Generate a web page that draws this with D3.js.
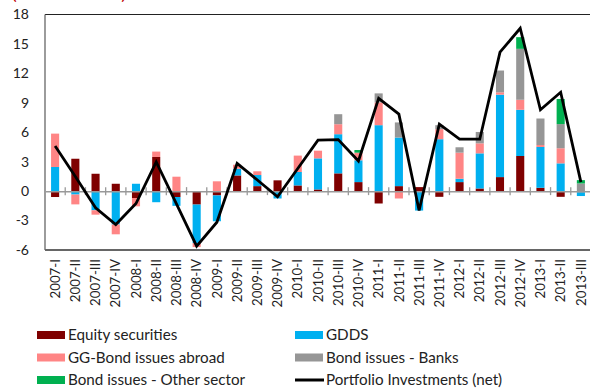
<!DOCTYPE html>
<html><head><meta charset="utf-8">
<script src="https://cdn.jsdelivr.net/npm/d3@7"></script>
<style>body{margin:0;background:#fff}svg{display:block}</style>
</head><body><svg id="c" width="590" height="389"></svg>
<script>
const categories = ["2007-I","2007-II","2007-III","2007-IV","2008-I","2008-II","2008-III","2008-IV","2009-I","2009-II","2009-III","2009-IV","2010-I","2010-II","2010-III","2010-IV","2011-I","2011-II","2011-III","2011-IV","2012-I","2012-II","2012-III","2012-IV","2013-I","2013-II","2013-III"];
const equity   = [-0.6,3.3,1.77,0.75,-0.7,3.48,-0.6,-1.37,-0.44,1.6,0.51,1.1,0.58,0.17,1.81,0.92,-1.26,0.51,0.41,-0.58,0.92,0.27,1.43,3.58,0.34,-0.58,-0.12];
const gdds     = [2.46,-0.35,-1.95,-3.4,0.75,-1.13,-0.9,-3.92,-2.63,0.68,1.13,-0.75,1.37,3.17,3.99,2.22,6.72,4.95,-1.98,5.29,0.34,3.58,8.4,4.71,4.16,2.83,-0.38];
const ggBond   = [3.4,-1.0,-0.45,-1.0,-0.85,0.55,1.47,-0.41,1.0,0.41,0.38,0,1.67,0.78,1.02,0.78,2.32,-0.75,0,1.02,2.66,1.02,0.24,1.02,0.2,1.54,0];
const banks    = [0,0,0,0,0,0,0,0,0,0,0,0,0,0,1.02,0,0.92,1.54,0,0.41,0.55,1.16,2.22,5.19,2.7,2.46,0.78];
const other    = [0,0,0,0,0,0,0,0,0,0,0,0,0,0,0,0.27,0,0,0,0,0,0,0,1.19,0,2.56,0.34];
const portfolio= [4.6,1.5,-1.7,-3.4,-1.26,2.97,-1.3,-5.6,-3.17,2.83,1.13,-0.58,2.3,5.19,5.25,3.07,9.45,7.85,-1.98,6.83,5.29,5.29,14.16,16.6,8.29,10.07,0.92];
const yTicks = [-6,-3,0,3,6,9,12,15,18];
const seriesNames = ["Equity securities","GDDS","GG-Bond issues abroad","Bond issues - Banks","Bond issues - Other sector"];
const seriesColors = ["#7f0000","#00b0f0","#ff8585","#969696","#00b050"];
const lineName = "Portfolio Investments (net)";

const keys = ["equity","gdds","gg","banks","other"];
const rows = categories.map((c,i)=>({cat:c,equity:equity[i],gdds:gdds[i],gg:ggBond[i],banks:banks[i],other:other[i]}));

const svg = d3.select("#c");
const font = "Lato, 'Open Sans', sans-serif";
const x = d3.scaleBand().domain(categories).range([45,591]).paddingInner(0.6).paddingOuter(0.3);
const y = d3.scaleLinear().domain([-6,18]).range([250,14.5]);

const stack = d3.stack().keys(keys).offset(d3.stackOffsetDiverging)(rows);

// title fragment (clipped at top, as in the reference)
svg.append("text").attr("x",12).attr("y",-0.5).attr("fill","#c00000")
  .attr("font-family",font).attr("font-size",14).attr("textLength",114).attr("lengthAdjust","spacingAndGlyphs")
  .text("(in EUR billion)");

// frame
svg.append("line").attr("x1",45).attr("x2",590).attr("y1",y(18)).attr("y2",y(18)).attr("stroke","#222").attr("stroke-width",1.2);
svg.append("line").attr("x1",45).attr("x2",45).attr("y1",y(18)).attr("y2",y(-6)).attr("stroke","#666").attr("stroke-width",1.3);
svg.append("line").attr("x1",45).attr("x2",590).attr("y1",y(-6)).attr("y2",y(-6)).attr("stroke","#666").attr("stroke-width",2);

// y labels
svg.append("g").selectAll("text").data(yTicks).join("text")
  .attr("x",29).attr("y",d=>y(d)).attr("dy","0.35em").attr("text-anchor","end")
  .attr("font-family",font).attr("font-size",14).attr("fill","#222").text(d=>d);

// bars
svg.append("g").selectAll("g").data(stack).join("g")
  .attr("fill",(d,i)=>seriesColors[i])
  .selectAll("rect").data(d=>d).join("rect")
  .attr("x",d=>x(d.data.cat)).attr("width",x.bandwidth())
  .attr("y",d=>y(Math.max(d[0],d[1]))).attr("height",d=>Math.abs(y(d[0])-y(d[1])));

// zero axis with ticks
const zg = svg.append("g").attr("transform",`translate(0,${y(0)})`);
zg.call(d3.axisBottom(x).tickSize(0).tickFormat(""));
zg.select(".domain").attr("stroke","#999").attr("stroke-width",1.5);
const step = x.step();
zg.selectAll(".sep").data(d3.range(1,categories.length+1)).join("line").attr("class","sep")
  .attr("x1",i=>45+i*step).attr("x2",i=>45+i*step).attr("y1",-4).attr("y2",4)
  .attr("stroke","#999").attr("stroke-width",1.3);

// x labels
svg.append("g").selectAll("text").data(categories).join("text")
  .attr("transform",d=>`translate(${x(d)+x.bandwidth()/2},259) rotate(-90)`)
  .attr("text-anchor","end").attr("dy","0.35em")
  .attr("font-family",font).attr("font-size",13.3).attr("fill","#222").text(d=>d);

// line
const line = d3.line().x((d,i)=>x(categories[i])+x.bandwidth()/2).y(d=>y(d));
svg.append("path").datum(portfolio).attr("d",line).attr("fill","none")
  .attr("stroke","#000").attr("stroke-width",2.8).attr("stroke-linejoin","miter");

// legend
const leg = [
  {n:seriesNames[0],c:seriesColors[0],x:37,y:335},
  {n:seriesNames[1],c:seriesColors[1],x:295,y:335},
  {n:seriesNames[2],c:seriesColors[2],x:37,y:357.5},
  {n:seriesNames[3],c:seriesColors[3],x:295,y:357.5},
  {n:seriesNames[4],c:seriesColors[4],x:37,y:380},
  {n:lineName,c:"#000",x:295,y:380,line:true}
];
const lg = svg.append("g").selectAll("g").data(leg).join("g").attr("transform",d=>`translate(${d.x},${d.y})`);
lg.filter(d=>!d.line).append("rect").attr("x",0).attr("y",-4).attr("width",28).attr("height",8).attr("fill",d=>d.c);
lg.filter(d=>d.line).append("line").attr("x1",0).attr("x2",29).attr("y1",0).attr("y2",0).attr("stroke","#000").attr("stroke-width",3);
lg.append("text").attr("x",31).attr("y",0).attr("dy","0.35em")
  .attr("font-family",font).attr("font-size",15.2).attr("fill","#222").text(d=>d.n);
</script></body></html>
